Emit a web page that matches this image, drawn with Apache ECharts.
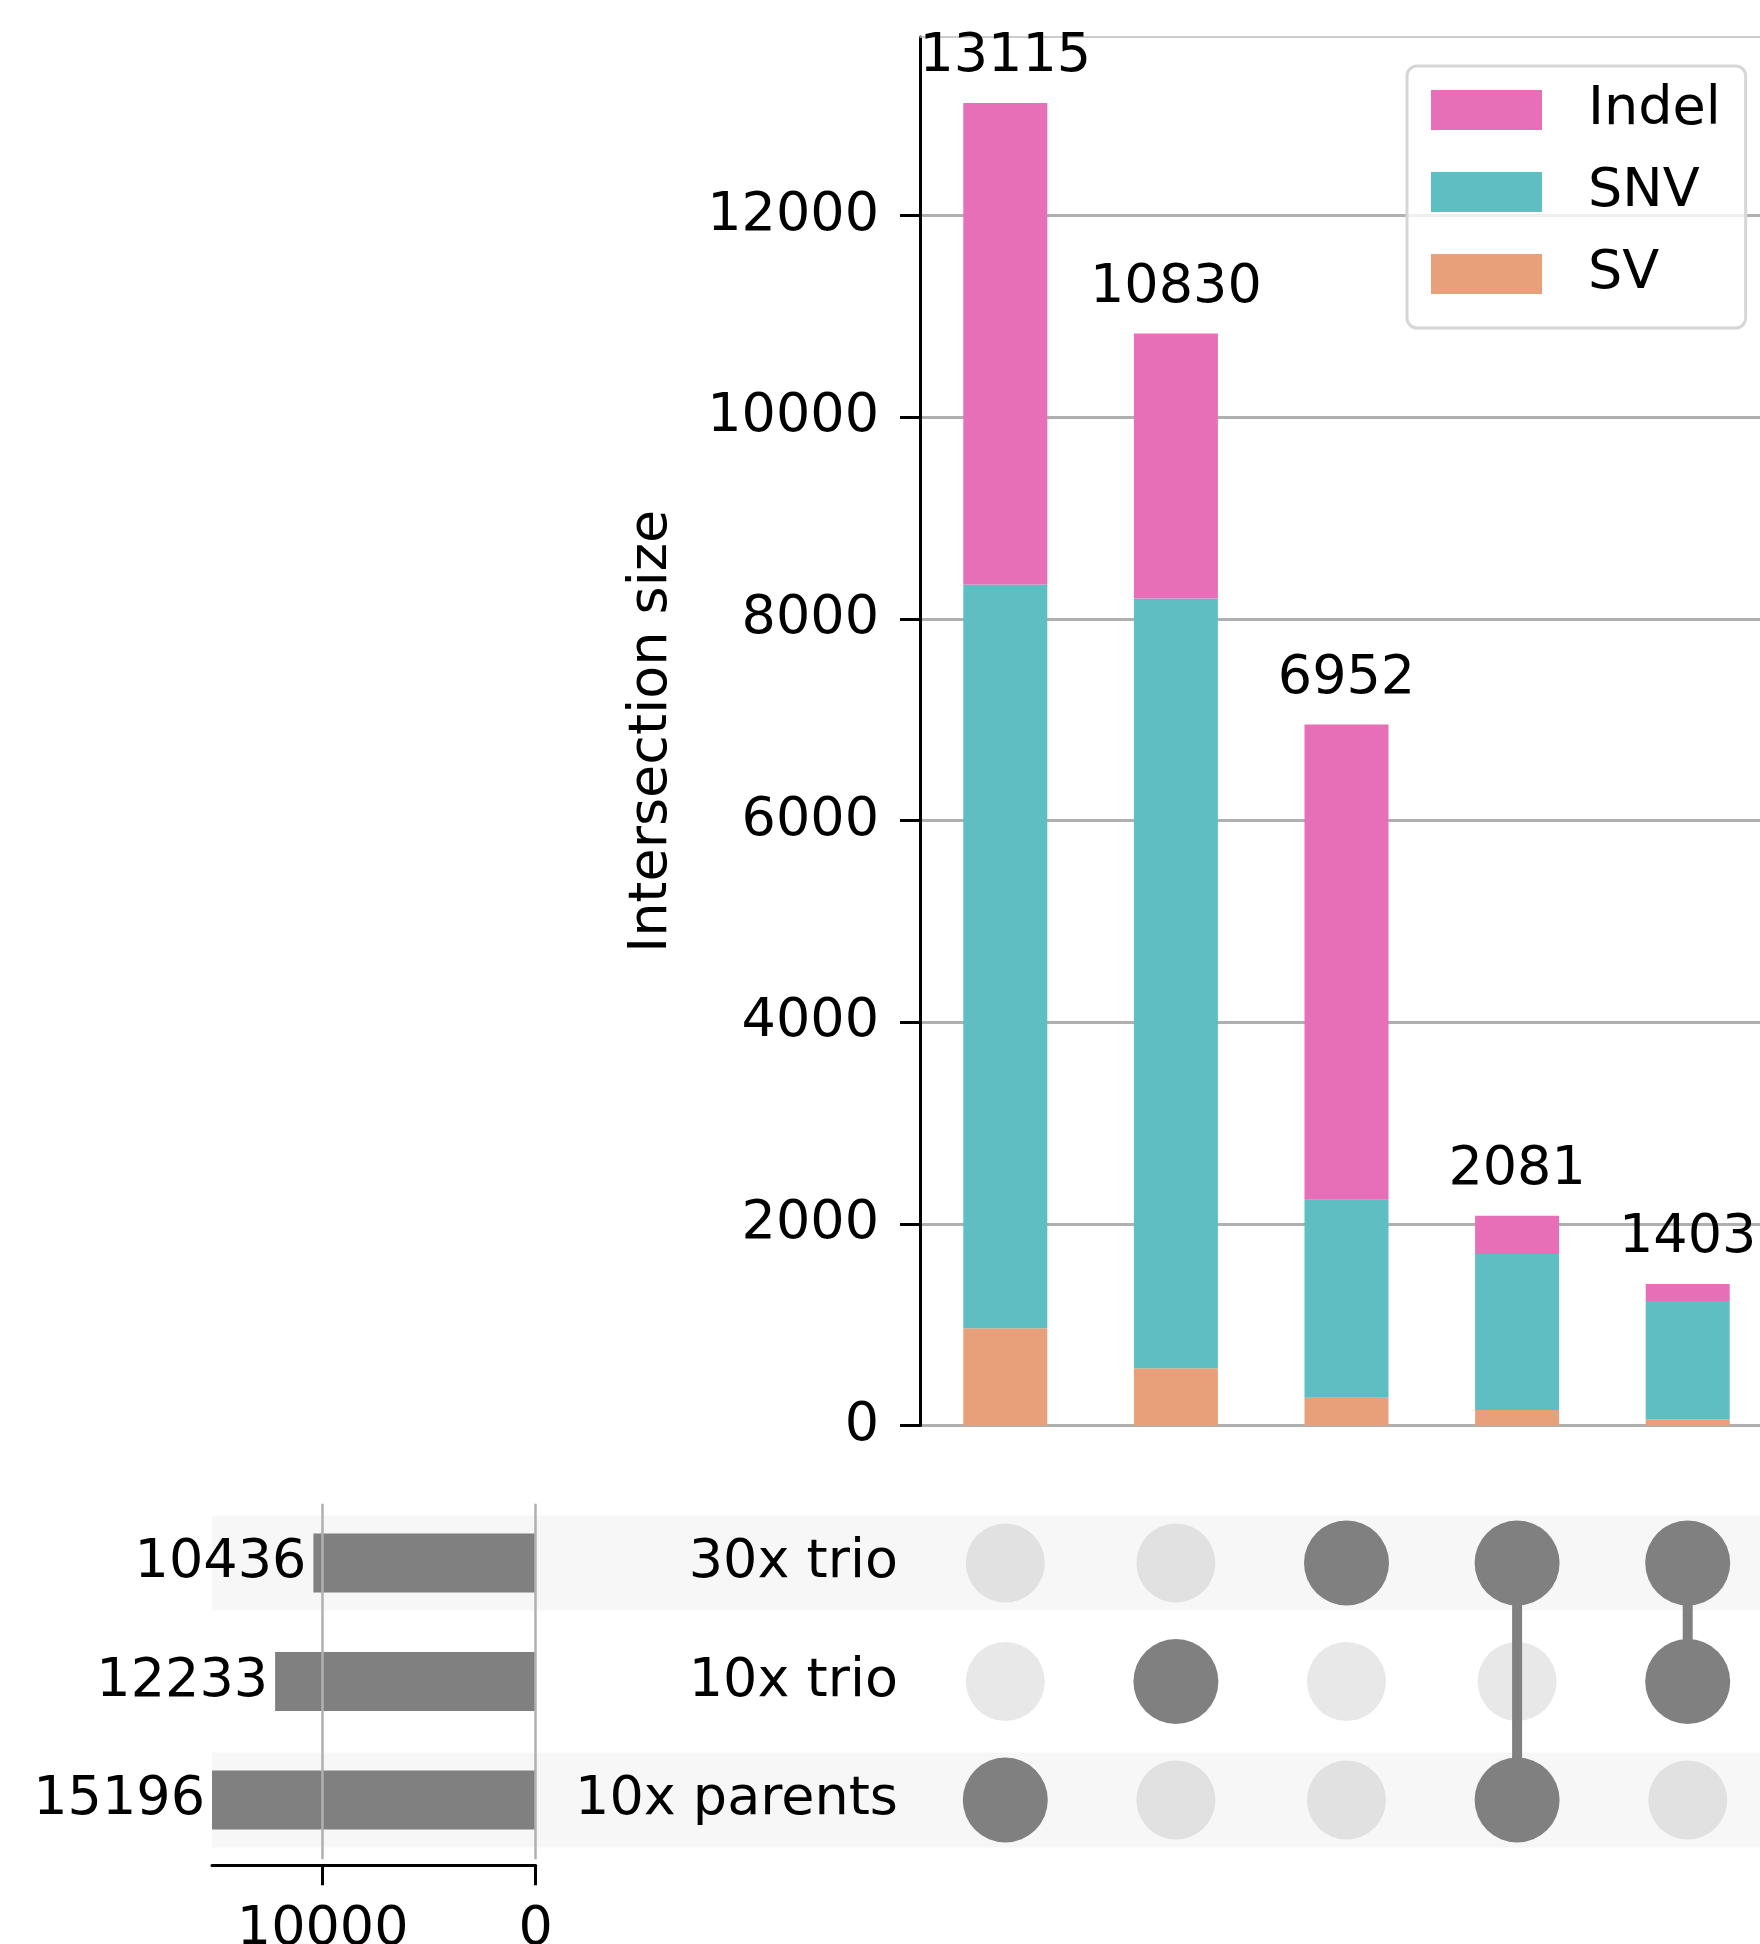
<!DOCTYPE html>
<html>
<head>
<meta charset="utf-8">
<script src="https://cdn.jsdelivr.net/npm/echarts@6/dist/echarts.min.js"></script>
<style>
html,body{margin:0;padding:0;background:#ffffff;}
#chart{width:1760px;height:1944px;}
</style>
</head>
<body>
<div id="chart"></div>
<script>
// ---------------- data ----------------
const intersectionLabels = ['10x parents', '10x trio', '30x trio', '30x trio + 10x parents', '30x trio + 10x trio'];
const intersectionTotals = [13115, 10830, 6952, 2081, 1403];
const svValues    = [965, 567, 275, 153, 61];
const snvValues   = [7375, 7634, 1963, 1549, 1174];
const indelValues = [4775, 2629, 4714, 379, 168];
const setNames  = ['30x trio', '10x trio', '10x parents'];
const setTotals = [10436, 12233, 15196];
const memberships = [
  ['10x parents'],
  ['10x trio'],
  ['30x trio'],
  ['30x trio', '10x parents'],
  ['30x trio', '10x trio']
];
const yTickValues = [0, 2000, 4000, 6000, 8000, 10000, 12000];
const totalsTickValues = [0, 10000];

// ---------------- style / layout ----------------
const FONT = 'DejaVu Sans';
const FS = 54;
const COLORS = { SV: '#e8a07a', SNV: '#5ebec1', Indel: '#e76fb8' };
const DOT_ON = '#808080';
const DOT_OFF = 'rgba(128,128,128,0.18)';
const SHADE = '#f7f7f7';
const GRID_COLOR = '#b0b0b0';
const plain = v => String(v);

const yMax = Math.max(...intersectionTotals) * 1.05;
const totalsMax = Math.max(...setTotals);

// matrix points
const dotsOn = [], dotsOff = [], links = [];
memberships.forEach((m, i) => {
  const rows = [];
  setNames.forEach((s, j) => {
    if (m.includes(s)) { dotsOn.push([i, j]); rows.push(j); }
    else dotsOff.push([i, j]);
  });
  if (rows.length > 1) links.push([i, Math.min(...rows), Math.max(...rows)]);
});
const shadedRows = setNames.map((s, j) => j).filter(j => j % 2 === 0).map(j => [totalsMax, j]);

const stackDefs = [
  { name: 'SV', data: svValues },
  { name: 'SNV', data: snvValues },
  { name: 'Indel', data: indelValues }
];

const barSeries = stackDefs.map((d, k) => ({
  type: 'bar',
  name: d.name,
  xAxisIndex: 0,
  yAxisIndex: 0,
  stack: 'total',
  barWidth: 84,
  data: d.data,
  itemStyle: { color: COLORS[d.name] },
  label: k === stackDefs.length - 1 ? {
    show: true,
    position: 'top',
    distance: 19,
    fontFamily: FONT,
    fontSize: FS,
    color: '#000',
    formatter: p => String(intersectionTotals[p.dataIndex])
  } : { show: false }
}));

const hiddenAxisParts = {
  axisLine: { show: false }, axisTick: { show: false }, axisLabel: { show: false }, splitLine: { show: false }
};

const chart = echarts.init(document.getElementById('chart'), null, { renderer: 'canvas' });

const option = {
  animation: false,
  backgroundColor: '#ffffff',
  textStyle: { fontFamily: FONT },
  legend: {
    data: ['Indel', 'SNV', 'SV'],
    orient: 'vertical',
    left: 1407,
    top: 66,
    padding: [17, 25, 27, 24],
    itemWidth: 111,
    itemHeight: 40,
    itemGap: 28,
    icon: 'rect',
    borderColor: '#d6d6d6',
    borderWidth: 3,
    borderRadius: 10,
    backgroundColor: 'rgba(255,255,255,0.8)',
    textStyle: { fontFamily: FONT, fontSize: FS, color: '#000', padding: [0, 0, 0, 41] }
  },
  grid: [
    { left: 920, top: 37, right: -13, height: 1388.5, containLabel: false, outerBoundsMode: 'none' },
    { left: 920, top: 1503.75, right: -13, height: 355.5, containLabel: false, outerBoundsMode: 'none' },
    { left: 212, top: 1503.75, width: 323.7, height: 355.5, containLabel: false, outerBoundsMode: 'none' }
  ],
  xAxis: [
    { gridIndex: 0, type: 'category', data: intersectionLabels, ...hiddenAxisParts },
    { gridIndex: 1, type: 'category', data: intersectionLabels, ...hiddenAxisParts },
    {
      gridIndex: 2, type: 'value', min: 0, max: totalsMax, interval: 10000, inverse: true,
      position: 'bottom', offset: 6, z: 5,
      axisLine: { show: true, lineStyle: { color: '#000', width: 3 } },
      axisTick: { show: true, customValues: totalsTickValues, length: 20, lineStyle: { color: '#000', width: 3 } },
      axisLabel: { show: true, customValues: totalsTickValues, formatter: plain, margin: 38, fontFamily: FONT, fontSize: FS, color: '#000' },
      splitLine: { show: true, lineStyle: { color: GRID_COLOR, width: 2.5 } }
    },
    {
      gridIndex: 0, type: 'category', data: intersectionLabels, position: 'top',
      axisLine: { show: true, lineStyle: { color: '#bdbdbd', width: 1.5 } },
      axisTick: { show: false }, axisLabel: { show: false }, splitLine: { show: false }
    }
  ],
  yAxis: [
    {
      gridIndex: 0, type: 'value', min: 0, max: yMax, interval: 2000,
      name: 'Intersection size', nameLocation: 'middle', nameGap: 241,
      nameTextStyle: { fontFamily: FONT, fontSize: FS, color: '#000' },
      axisLine: { show: true, lineStyle: { color: '#000', width: 3 } },
      axisTick: { show: true, customValues: yTickValues, length: 20, lineStyle: { color: '#000', width: 3 } },
      axisLabel: { show: true, customValues: yTickValues, formatter: plain, margin: 41, fontFamily: FONT, fontSize: FS, color: '#000' },
      splitLine: { show: true, lineStyle: { color: GRID_COLOR, width: 3 } }
    },
    {
      gridIndex: 1, type: 'category', data: setNames, inverse: true,
      axisLine: { show: false }, axisTick: { show: false },
      axisLabel: { show: true, margin: 22, fontFamily: FONT, fontSize: FS, color: '#000' },
      splitLine: { show: false }
    },
    { gridIndex: 2, type: 'category', data: setNames, inverse: true, ...hiddenAxisParts }
  ],
  series: [
    ...barSeries,
    {
      type: 'custom', name: 'shading', xAxisIndex: 2, yAxisIndex: 2, z: 0, clip: false, silent: true,
      data: shadedRows,
      renderItem: (params, api) => {
        const p = api.coord([api.value(0), api.value(1)]);
        const h = api.size([0, 1])[1] * 0.8;
        return { type: 'rect', shape: { x: p[0], y: p[1] - h / 2, width: api.getWidth() - p[0], height: h }, style: { fill: SHADE } };
      }
    },
    {
      type: 'bar', name: 'Set size', xAxisIndex: 2, yAxisIndex: 2, z: 2,
      barWidth: 59, data: setTotals, itemStyle: { color: '#808080' },
      label: { show: true, position: 'left', distance: 7, fontFamily: FONT, fontSize: FS, color: '#000' }
    },
    {
      type: 'scatter', name: 'not member', xAxisIndex: 1, yAxisIndex: 1, z: 2,
      symbol: 'circle', symbolSize: 79, data: dotsOff, itemStyle: { color: DOT_OFF, opacity: 1 }
    },
    {
      type: 'custom', name: 'links', xAxisIndex: 1, yAxisIndex: 1, z: 3, clip: false,
      data: links,
      renderItem: (params, api) => {
        const a = api.coord([api.value(0), api.value(1)]);
        const b = api.coord([api.value(0), api.value(2)]);
        return { type: 'rect', shape: { x: a[0] - 5, y: Math.min(a[1], b[1]), width: 10, height: Math.abs(b[1] - a[1]) }, style: { fill: DOT_ON } };
      }
    },
    {
      type: 'scatter', name: 'member', xAxisIndex: 1, yAxisIndex: 1, z: 4,
      symbol: 'circle', symbolSize: 85, data: dotsOn, itemStyle: { color: DOT_ON, opacity: 1 }
    }
  ]
};
chart.setOption(option);
</script>
</body>
</html>
